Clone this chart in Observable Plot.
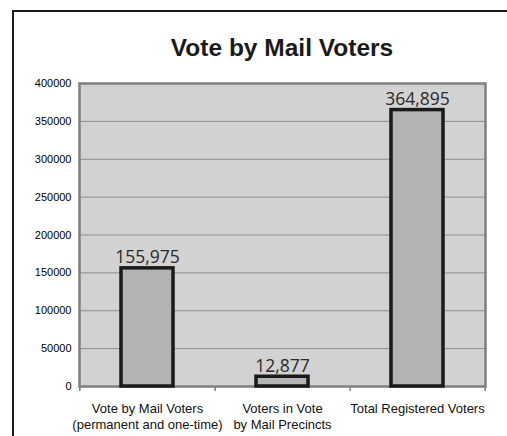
<!DOCTYPE html>
<html>
<head>
<meta charset="utf-8">
<script src="https://cdn.jsdelivr.net/npm/d3@7"></script>
<script src="https://cdn.jsdelivr.net/npm/@observablehq/plot@0.6"></script>
<style>
  body { margin: 0; background: #fff; }
  #wrap { position: relative; width: 507px; height: 436px; overflow: hidden; }
  #border { position: absolute; left: 12px; top: 10px; width: 700px; height: 700px;
            border-left: 2.5px solid #1a1a1a; border-top: 2.5px solid #1a1a1a; pointer-events: none; }
  #title { position: absolute; left: 79px; width: 406px; top: 34px; line-height: 28px;
           text-align: center; font: bold 24.5px "Liberation Sans", Arial, sans-serif; color: #1a1a1a; }
  #chart { position: absolute; left: 0; top: 0; }
</style>
</head>
<body>
<div id="wrap">
  <div id="chart"></div>
  <div id="title">Vote by Mail Voters</div>
  <div id="border"></div>
</div>
<script>
const categories = [
  "Vote by Mail Voters\n(permanent and one-time)",
  "Voters in Vote\nby Mail Precincts",
  "Total Registered Voters"
];
const values = [155975, 12877, 364895];
const valueLabels = ["155,975", "12,877", "364,895"];
const yTicks = [0, 50000, 100000, 150000, 200000, 250000, 300000, 350000, 400000];

const data = categories.map((c, i) => ({cat: c, value: values[i], label: valueLabels[i]}));

const W = 507, H = 436, mL = 79, mR = 22, mT = 83, mB = 50;
const step = (W - mL - mR) / categories.length;

const chart = Plot.plot({
  width: W, height: H,
  marginLeft: mL, marginRight: mR, marginTop: mT, marginBottom: mB,
  style: {background: "transparent", fontFamily: "'Liberation Sans', Arial, sans-serif", color: "#111"},
  x: {domain: categories, paddingInner: 0.612, paddingOuter: 0.306, label: null},
  y: {domain: [0, 400000], label: null},
  marks: [
    Plot.frame({fill: "#d2d2d2", stroke: null}),
    Plot.gridY({ticks: yTicks, stroke: "#8c8c8c", strokeOpacity: 1, strokeWidth: 1}),
    Plot.frame({stroke: "#7f7f7f", strokeWidth: 2.5}),
    Plot.barY(data, {x: "cat", y: "value", fill: "#b3b3b3", stroke: "#1a1a1a", strokeWidth: 3.5}),
    Plot.text(data, {x: "cat", y: "value", text: "label", dy: -5, lineAnchor: "bottom",
      fontSize: 17.5, fontFamily: "'Open Sans', sans-serif", fill: "#2a2a2a"}),
    Plot.axisY({ticks: yTicks, tickFormat: d3.format("d"), tickSize: 0, tickPadding: 8,
      fontSize: 11, label: null, fill: "#000"}),
    Plot.axisX({tickSize: 0, tickPadding: 16, fontSize: 13, lineHeight: 1.18, label: null, fill: "#111"}),
    Plot.axisX({tickSize: 5, tickFormat: () => "", label: null, dx: step / 2, stroke: "#7f7f7f", strokeWidth: 1.5}),
    Plot.axisX({ticks: [categories[0]], tickSize: 5, tickFormat: () => "", label: null, dx: -step / 2, stroke: "#7f7f7f", strokeWidth: 1.5})
  ]
});
document.getElementById("chart").appendChild(chart);
</script>
</body>
</html>
